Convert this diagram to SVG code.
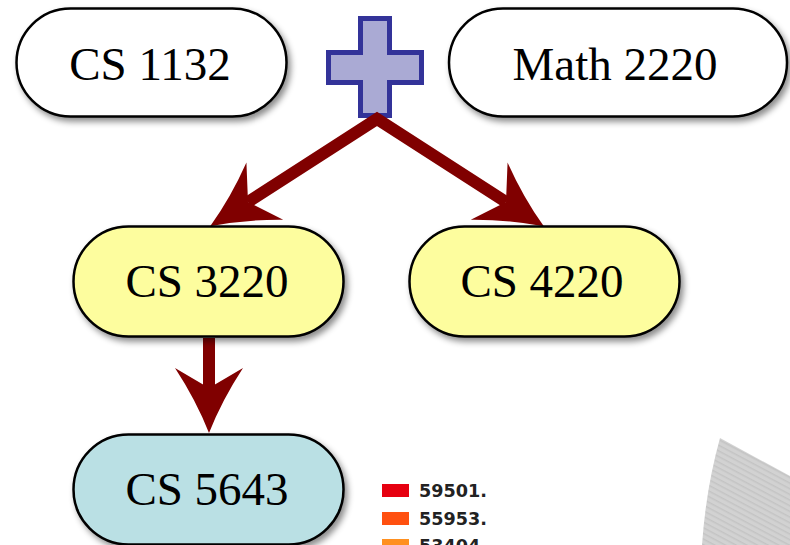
<svg xmlns="http://www.w3.org/2000/svg" width="790" height="545" viewBox="0 0 790 545">
<style>
.node rect{stroke:#000;stroke-width:2.5;filter:url(#sh)}
.node text{font-family:"Liberation Serif","Times New Roman",serif;font-size:47px;fill:#000;text-anchor:middle}
.white{fill:#fff}.yellow{fill:#fdfd9e}.blue{fill:#bae0e4}
.conn path{fill:none;stroke:#800000;stroke-width:12;stroke-linejoin:miter;stroke-miterlimit:10}
.leg text{font-family:"DejaVu Sans",Verdana,sans-serif;font-weight:bold;font-size:17px;fill:#222}
</style>
<defs>
<filter id="sh" x="-10%" y="-20%" width="125%" height="150%">
<feDropShadow dx="3" dy="4" stdDeviation="3" flood-color="#000" flood-opacity="0.45"/>
</filter>
<marker id="ah" markerUnits="userSpaceOnUse" viewBox="-25 -36 75 72" refX="0" refY="0" markerWidth="75" markerHeight="72" orient="auto-start-reverse">
<path d="M45,0 Q12,-13 -20,-34 L0,0 L-20,34 Q12,13 45,0 Z" fill="#800000"/>
</marker>
<pattern id="stripes" width="10" height="5" patternUnits="userSpaceOnUse" patternTransform="rotate(28)">
<rect width="10" height="5" fill="#d2d2d2"/>
<rect y="0" width="10" height="1.5" fill="#c4c4c4"/>
</pattern>
</defs>
<rect width="790" height="545" fill="#fff"/>
<g id="fan"><path d="M720,438 L790,476 L790,545 L702,545 Q706,488 720,438 Z" fill="url(#stripes)"/></g>
<g id="legend" class="leg">
<rect x="382" y="484" width="27" height="13" fill="#e60010"/>
<text x="419" y="497" textLength="68" lengthAdjust="spacingAndGlyphs">59501.</text>
<rect x="382" y="512" width="27" height="13" fill="#ff5010"/>
<text x="419" y="525" textLength="68" lengthAdjust="spacingAndGlyphs">55953.</text>
<rect x="382" y="539" width="27" height="13" fill="#ff9020"/>
<text x="419" y="552" textLength="68" lengthAdjust="spacingAndGlyphs">53404.</text>
</g>
<g id="plus"><path d="M360.5,18.5 H389.5 V52.5 H421.5 V82.5 H389.5 V115.5 H360.5 V82.5 H328.5 V52.5 H360.5 Z" fill="#aaaad4" stroke="#333399" stroke-width="5"/></g>
<g id="connectors" class="conn">
<path d="M248,202 L377,119 L506,202" marker-start="url(#ah)" marker-end="url(#ah)"/>
<path d="M209,338 L209,388" marker-end="url(#ah)"/>
</g>
<g id="cs1132" class="node"><rect class="white" x="16.5" y="8.5" width="270" height="108" rx="54"/><text x="150" y="80">CS 1132</text></g>
<g id="math2220" class="node"><rect class="white" x="449" y="8.5" width="338" height="108" rx="54"/><text x="615" y="80">Math 2220</text></g>
<g id="cs3220" class="node"><rect class="yellow" x="73.5" y="226.5" width="270" height="110" rx="55"/><text x="207" y="297">CS 3220</text></g>
<g id="cs4220" class="node"><rect class="yellow" x="409.5" y="226.5" width="270" height="110" rx="55"/><text x="542" y="297">CS 4220</text></g>
<g id="cs5643" class="node"><rect class="blue" x="73.5" y="434.5" width="270" height="110" rx="55"/><text x="207" y="505">CS 5643</text></g>
</svg>
